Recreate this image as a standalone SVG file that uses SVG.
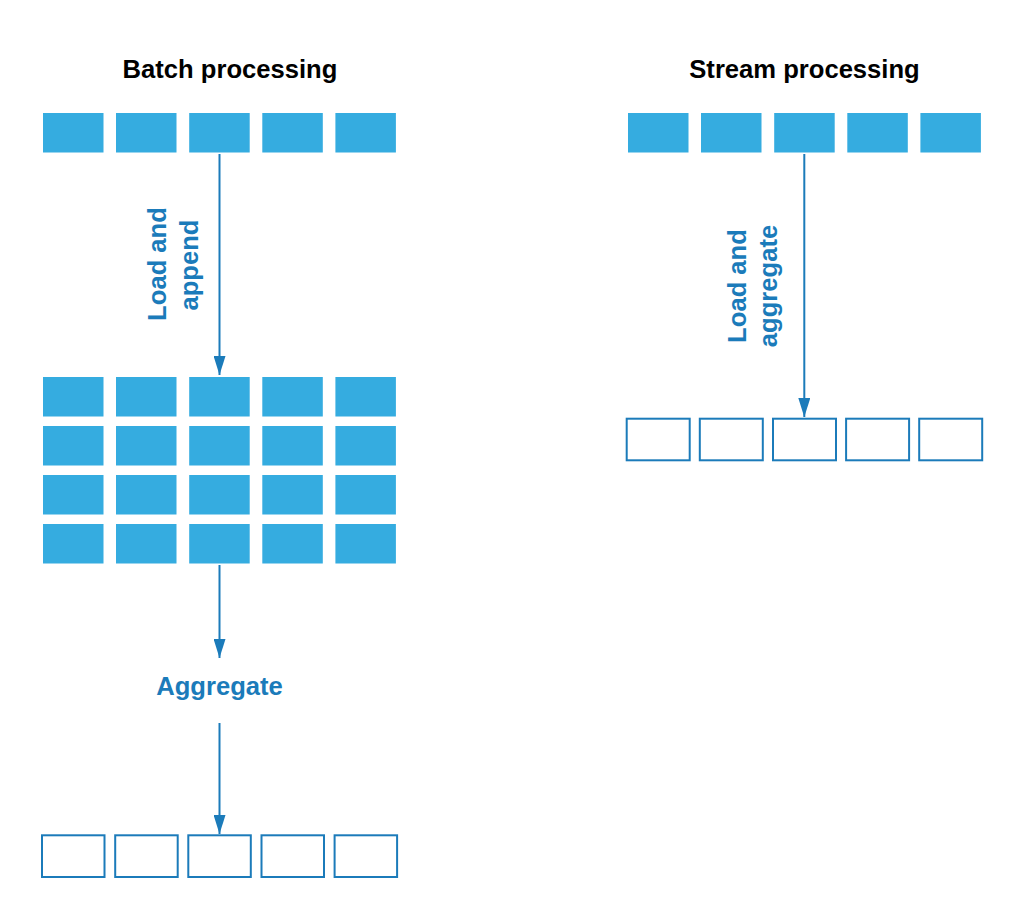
<svg xmlns="http://www.w3.org/2000/svg" width="1024" height="919" viewBox="0 0 1024 919">
<style>
.f{fill:#35ace0;}
.o{fill:#ffffff;stroke:#1b7bba;stroke-width:2;}
.t{font-family:"Liberation Sans",Arial,sans-serif;font-weight:bold;font-size:25.6px;}
.title{fill:#000000;}
.lbl{fill:#1b7bba;}
.c{stroke:#1b7bba;stroke-width:2;fill:none;}
</style>
<defs>
<marker id="ah" markerUnits="userSpaceOnUse" markerWidth="20" markerHeight="12" viewBox="0 0 20 12" refX="19" refY="6" orient="auto">
<polygon points="0,0 19,6 0,12" fill="#1b7bba"/>
</marker>
</defs>
<rect width="1024" height="919" fill="#ffffff"/>

<g id="title-batch"><text class="t title" x="230" y="78" text-anchor="middle">Batch processing</text></g>
<g id="title-stream"><text class="t title" x="804.5" y="78" text-anchor="middle">Stream processing</text></g>

<g id="batch-input">
<rect class="f" x="43" y="113" width="60.5" height="39.5"/>
<rect class="f" x="116" y="113" width="60.5" height="39.5"/>
<rect class="f" x="189.2" y="113" width="60.5" height="39.5"/>
<rect class="f" x="262.3" y="113" width="60.5" height="39.5"/>
<rect class="f" x="335.4" y="113" width="60.5" height="39.5"/>
</g>

<g id="batch-store">
<rect class="f" x="43" y="377" width="60.5" height="39.5"/>
<rect class="f" x="116" y="377" width="60.5" height="39.5"/>
<rect class="f" x="189.2" y="377" width="60.5" height="39.5"/>
<rect class="f" x="262.3" y="377" width="60.5" height="39.5"/>
<rect class="f" x="335.4" y="377" width="60.5" height="39.5"/>
<rect class="f" x="43" y="426" width="60.5" height="39.5"/>
<rect class="f" x="116" y="426" width="60.5" height="39.5"/>
<rect class="f" x="189.2" y="426" width="60.5" height="39.5"/>
<rect class="f" x="262.3" y="426" width="60.5" height="39.5"/>
<rect class="f" x="335.4" y="426" width="60.5" height="39.5"/>
<rect class="f" x="43" y="475" width="60.5" height="39.5"/>
<rect class="f" x="116" y="475" width="60.5" height="39.5"/>
<rect class="f" x="189.2" y="475" width="60.5" height="39.5"/>
<rect class="f" x="262.3" y="475" width="60.5" height="39.5"/>
<rect class="f" x="335.4" y="475" width="60.5" height="39.5"/>
<rect class="f" x="43" y="524" width="60.5" height="39.5"/>
<rect class="f" x="116" y="524" width="60.5" height="39.5"/>
<rect class="f" x="189.2" y="524" width="60.5" height="39.5"/>
<rect class="f" x="262.3" y="524" width="60.5" height="39.5"/>
<rect class="f" x="335.4" y="524" width="60.5" height="39.5"/>
</g>

<g id="batch-aggregate-label"><text class="t lbl" x="219.5" y="695" text-anchor="middle">Aggregate</text></g>

<g id="batch-output">
<rect class="o" x="42" y="835.3" width="62.5" height="41.7"/>
<rect class="o" x="115.2" y="835.3" width="62.5" height="41.7"/>
<rect class="o" x="188.3" y="835.3" width="62.5" height="41.7"/>
<rect class="o" x="261.5" y="835.3" width="62.5" height="41.7"/>
<rect class="o" x="334.6" y="835.3" width="62.5" height="41.7"/>
</g>

<g id="stream-input">
<rect class="f" x="628" y="113" width="60.5" height="39.5"/>
<rect class="f" x="701" y="113" width="60.5" height="39.5"/>
<rect class="f" x="774.2" y="113" width="60.5" height="39.5"/>
<rect class="f" x="847.3" y="113" width="60.5" height="39.5"/>
<rect class="f" x="920.4" y="113" width="60.5" height="39.5"/>
</g>

<g id="stream-output">
<rect class="o" x="626.7" y="418.7" width="63" height="41.6"/>
<rect class="o" x="699.8" y="418.7" width="63" height="41.6"/>
<rect class="o" x="773" y="418.7" width="63" height="41.6"/>
<rect class="o" x="846.1" y="418.7" width="63" height="41.6"/>
<rect class="o" x="919.2" y="418.7" width="63" height="41.6"/>
</g>

<g id="connectors">
<line class="c" x1="219.5" y1="154" x2="219.5" y2="375" marker-end="url(#ah)"/>
<line class="c" x1="219.5" y1="565" x2="219.5" y2="658" marker-end="url(#ah)"/>
<line class="c" x1="219.5" y1="723" x2="219.5" y2="834" marker-end="url(#ah)"/>
<line class="c" x1="804.3" y1="154" x2="804.3" y2="417" marker-end="url(#ah)"/>
</g>

<g id="batch-load-label">
<text class="t lbl" x="166" y="264" text-anchor="middle" transform="rotate(-90 166 264)">Load and</text>
<text class="t lbl" x="197.5" y="265" text-anchor="middle" transform="rotate(-90 197.5 265)">append</text>
</g>
<g id="stream-load-label">
<text class="t lbl" x="746" y="286" text-anchor="middle" transform="rotate(-90 746 286)">Load and</text>
<text class="t lbl" x="776.5" y="286" text-anchor="middle" transform="rotate(-90 776.5 286)">aggregate</text>
</g>
</svg>
